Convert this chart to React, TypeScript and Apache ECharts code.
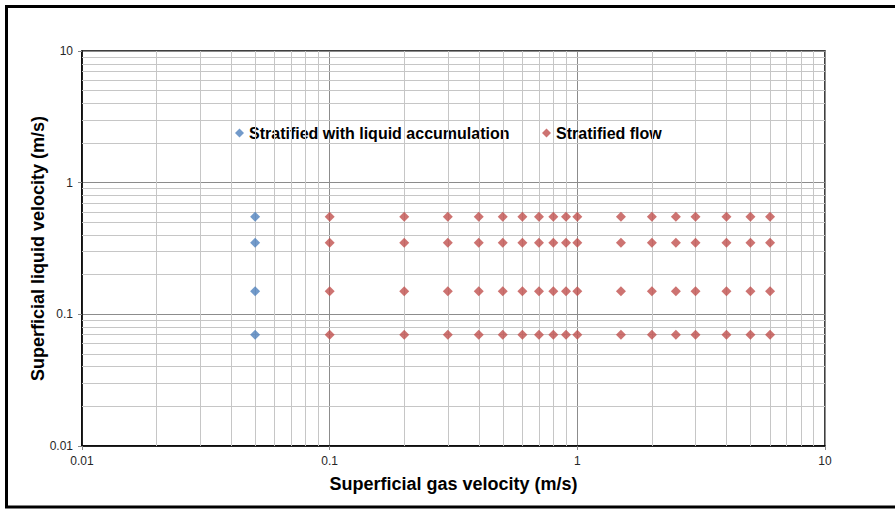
import React, { useEffect, useRef } from "react";
import * as echarts from "echarts";

// Superficial gas velocities (m/s) for each flow regime
const accumulationGas = [0.05];
const stratifiedGas = [0.1, 0.2, 0.3, 0.4, 0.5, 0.6, 0.7, 0.8, 0.9, 1, 1.5, 2, 2.5, 3, 4, 5, 6];
// Superficial liquid velocities (m/s) tested at each gas velocity
const liquidVelocities = [0.07, 0.15, 0.35, 0.55];

const seriesNames = ["Stratified with liquid accumulation", "Stratified flow"];
const seriesColors = ["#4F81BD", "#C0504D"];

// Log-axis range and decade starts used for the minor grid
const axisMin = 0.01;
const axisMax = 10;
const decades = [0.01, 0.1, 1];
const minorSteps = [2, 3, 4, 5, 6, 7, 8, 9];

const FONT = "'Liberation Sans', Arial, sans-serif";

function pairs(gas: number[], liquid: number[]): [number, number][] {
  const out: [number, number][] = [];
  for (const g of gas) for (const l of liquid) out.push([g, l]);
  return out;
}

function clean(v: number): number {
  return Number(v.toPrecision(6));
}

export default function App() {
  const ref = useRef<HTMLDivElement>(null);

  useEffect(() => {
    if (!ref.current) return;
    const chart = echarts.init(ref.current, null, { renderer: "svg" });

    const minorValues: number[] = [];
    for (const d of decades) for (const s of minorSteps) minorValues.push(clean(d * s));

    const minorLines = [
      ...minorValues.map((v) => ({ xAxis: v })),
      ...minorValues.map((v) => ({ yAxis: v })),
    ];

    const axisLabel = {
      color: "#262626",
      fontSize: 12,
      fontFamily: FONT,
      formatter: (v: number) => String(clean(v)),
    };

    const legendText = { fontSize: 16, fontWeight: "bold", color: "#000", fontFamily: FONT, lineHeight: 16 };

    chart.setOption({
      animation: false,
      backgroundColor: "#ffffff",
      textStyle: { fontFamily: FONT },
      graphic: [
        {
          type: "rect",
          shape: { x: 6.5, y: 6.5, width: 900, height: 500.5 },
          style: { fill: "none", stroke: "#000", lineWidth: 3 },
          z: 100,
          silent: true,
        },
      ],
      grid: {
        left: 82,
        right: 70,
        top: 51,
        bottom: 63,
        show: true,
        borderColor: "#000",
        borderWidth: 1.5,
        backgroundColor: "transparent",
      },
      legend: [
        {
          data: [seriesNames[0]],
          left: 235,
          top: 125,
          padding: 0,
          icon: "diamond",
          itemWidth: 9,
          itemHeight: 9,
          itemGap: 0,
          textStyle: legendText,
        },
        {
          data: [seriesNames[1]],
          left: 542,
          top: 125,
          padding: 0,
          icon: "diamond",
          itemWidth: 9,
          itemHeight: 9,
          itemGap: 0,
          textStyle: legendText,
        },
      ],
      xAxis: {
        type: "log",
        logBase: 10,
        min: axisMin,
        max: axisMax,
        name: "Superficial gas velocity (m/s)",
        nameLocation: "middle",
        nameGap: 29,
        nameMoveOverlap: false,
        nameTextStyle: { fontSize: 18, fontWeight: "bold", color: "#000", fontFamily: FONT },
        axisLine: { show: true, onZero: false, lineStyle: { color: "#000", width: 1.5 } },
        axisTick: { show: true, length: 4, lineStyle: { color: "#868686" } },
        axisLabel: { ...axisLabel, margin: 9 },
        splitLine: { show: true, lineStyle: { color: "#8c8c8c", width: 1 } },
        minorTick: { show: false },
        minorSplitLine: { show: false },
      },
      yAxis: {
        type: "log",
        logBase: 10,
        min: axisMin,
        max: axisMax,
        name: "Superficial liquid velocity (m/s)",
        nameLocation: "middle",
        nameGap: 35,
        nameMoveOverlap: false,
        nameTextStyle: { fontSize: 18, fontWeight: "bold", color: "#000", fontFamily: FONT },
        axisLine: { show: true, onZero: false, lineStyle: { color: "#000", width: 1.5 } },
        axisTick: { show: true, length: 4, lineStyle: { color: "#868686" } },
        axisLabel: { ...axisLabel, margin: 9 },
        splitLine: { show: true, lineStyle: { color: "#8c8c8c", width: 1 } },
        minorTick: { show: false },
        minorSplitLine: { show: false },
      },
      series: [
        {
          name: "minor-grid",
          type: "scatter",
          data: [],
          z: 1,
          silent: true,
          markLine: {
            silent: true,
            symbol: ["none", "none"],
            label: { show: false },
            animation: false,
            lineStyle: { color: "#c6c6c6", width: 1, type: "solid" },
            emphasis: { disabled: true },
            data: minorLines,
          },
        },
        {
          name: seriesNames[0],
          type: "scatter",
          symbol: "diamond",
          symbolSize: 10,
          itemStyle: { color: seriesColors[0] },
          z: 5,
          data: pairs(accumulationGas, liquidVelocities),
        },
        {
          name: seriesNames[1],
          type: "scatter",
          symbol: "diamond",
          symbolSize: 10,
          itemStyle: { color: seriesColors[1] },
          z: 5,
          data: pairs(stratifiedGas, liquidVelocities),
        },
      ],
    });

    return () => chart.dispose();
  }, []);

  return (
    <div
      ref={ref}
      style={{ position: "fixed", left: 0, top: 0, width: 895, height: 509, background: "#fff" }}
    />
  );
}
